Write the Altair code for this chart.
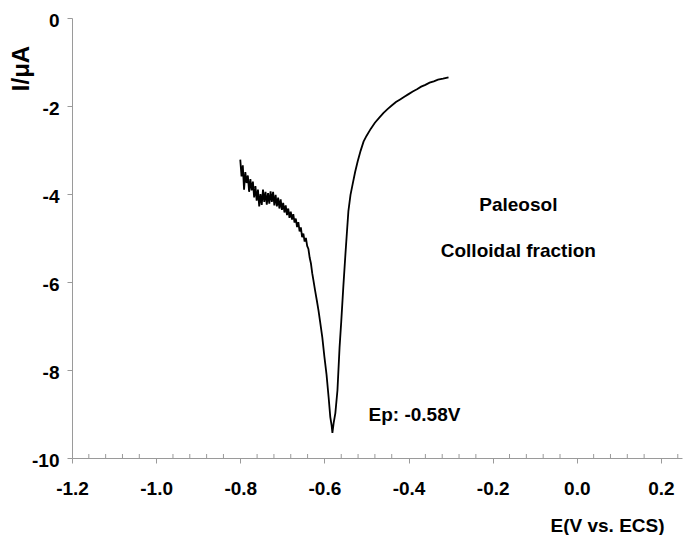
import altair as alt
import pandas as pd

# Potential (V vs. ECS) and current (uA)
E_values = [
    -0.800, -0.797, -0.794, -0.791, -0.788, -0.785, -0.782, -0.779, -0.776, -0.773,
    -0.770, -0.767, -0.764, -0.761, -0.758, -0.755, -0.752, -0.749, -0.746, -0.743,
    -0.740, -0.737, -0.734, -0.731, -0.728, -0.725, -0.722, -0.719, -0.716, -0.713,
    -0.710, -0.707, -0.704, -0.701, -0.698, -0.695, -0.692, -0.689, -0.686, -0.683,
    -0.680, -0.677, -0.674, -0.671, -0.668, -0.665, -0.662, -0.659, -0.656, -0.653,
    -0.650, -0.647, -0.644, -0.641, -0.638, -0.635, -0.632, -0.629, -0.626, -0.622,
    -0.618, -0.614, -0.610, -0.605, -0.600, -0.595, -0.590, -0.586, -0.583, -0.581,
    -0.578, -0.574, -0.569, -0.564, -0.560, -0.555, -0.550, -0.546, -0.543, -0.538,
    -0.533, -0.527, -0.521, -0.514, -0.507, -0.500, -0.490, -0.480, -0.470, -0.460,
    -0.450, -0.440, -0.430, -0.420, -0.410, -0.400, -0.390, -0.380, -0.370, -0.360,
    -0.350, -0.340, -0.330, -0.318, -0.305,
]
I_values = [
    -3.22, -3.60, -3.35, -3.90, -3.50, -3.75, -3.58, -3.95, -3.66, -3.92,
    -3.72, -4.08, -3.82, -4.15, -3.90, -4.28, -4.00, -4.25, -3.90, -4.18,
    -3.95, -4.24, -3.98, -4.22, -3.94, -4.18, -3.95, -4.26, -4.02, -4.28,
    -4.08, -4.33, -4.12, -4.36, -4.20, -4.42, -4.26, -4.48, -4.33, -4.54,
    -4.40, -4.58, -4.46, -4.65, -4.56, -4.75, -4.64, -4.85, -4.76, -4.98,
    -4.90, -5.08, -5.00, -5.18, -5.25, -5.45, -5.58, -5.80, -5.97, -6.20,
    -6.42, -6.65, -6.92, -7.26, -7.70, -8.10, -8.62, -9.07, -9.25, -9.43,
    -9.20, -8.98, -8.46, -7.49, -6.90, -6.10, -5.36, -4.80, -4.39, -4.02,
    -3.78, -3.50, -3.26, -3.02, -2.81, -2.68, -2.52, -2.38, -2.27, -2.16,
    -2.07, -1.99, -1.91, -1.85, -1.79, -1.73, -1.67, -1.62, -1.56, -1.52,
    -1.47, -1.44, -1.40, -1.38, -1.35,
]

x_ticks = [-1.2, -1.0, -0.8, -0.6, -0.4, -0.2, 0.0, 0.2]
x_minor = [-1.16, -1.12, -1.08, -1.04, -0.96, -0.92, -0.88, -0.84,
           -0.76, -0.72, -0.68, -0.64, -0.56, -0.52, -0.48, -0.44,
           -0.36, -0.32, -0.28, -0.24, -0.16, -0.12, -0.08, -0.04,
           0.04, 0.08, 0.12, 0.16, 0.24]
y_ticks = [0, -2, -4, -6, -8, -10]

labels = ["Paleosol", "Colloidal fraction", "Ep: -0.58V"]
label_x = [-0.139, -0.139, -0.386]
label_y = [-4.39, -5.43, -9.16]

W, H = 610, 440
FONT = "Liberation Sans"
AXIS_GRAY = "#9a9a9a"

curve = pd.DataFrame({"E": E_values, "I": I_values, "idx": list(range(len(E_values)))})
minor_df = pd.DataFrame({"E": x_minor})
text_df = pd.DataFrame({"label": labels, "E": label_x, "I": label_y})

x_scale = alt.Scale(domain=[-1.2, 0.25], nice=False, zero=False)
y_scale = alt.Scale(domain=[-10, 0], nice=False, zero=False)

x_axis = alt.Axis(
    values=x_ticks, title="E(V vs. ECS)", grid=False,
    labelExpr="replace(format(datum.value, '.1f'), '\u2212', '-')",
    domainColor=AXIS_GRAY, tickColor=AXIS_GRAY, tickSize=5, labelPadding=16,
    labelFont=FONT, labelFontSize=19, labelFontWeight="bold", labelColor="black",
    titleFont=FONT, titleFontSize=19, titleFontWeight="bold", titleColor="black",
    titleX=535, titleY=73, titleAlign="center", titleBaseline="alphabetic",
    labelFlush=False, labelOverlap=False,
)
y_axis = alt.Axis(
    values=y_ticks, title="I/μA", grid=False,
    labelExpr="replace(format(datum.value, 'd'), '\u2212', '-')",
    domainColor=AXIS_GRAY, tickColor=AXIS_GRAY, tickSize=5, labelPadding=8,
    labelOffset=2, labelBaseline="middle",
    labelFont=FONT, labelFontSize=19, labelFontWeight="bold", labelColor="black",
    titleFont=FONT, titleFontSize=24, titleFontWeight="bold", titleColor="black",
    titleX=-44, titleY=50, titleAlign="center", titleBaseline="alphabetic", titleAngle=270,
    labelFlush=False, labelOverlap=False,
)

line = alt.Chart(curve).mark_line(color="black", strokeWidth=1.8).encode(
    x=alt.X("E:Q", scale=x_scale, axis=x_axis),
    y=alt.Y("I:Q", scale=y_scale, axis=y_axis),
    order="idx:Q",
)

minor = alt.Chart(minor_df).mark_rule(color=AXIS_GRAY, strokeWidth=1).encode(
    x=alt.X("E:Q", scale=x_scale),
    y=alt.value(H - 4),
    y2=alt.value(H),
)

texts = alt.Chart(text_df).mark_text(
    font=FONT, fontSize=19, fontWeight="bold", color="black",
    align="center", baseline="alphabetic",
).encode(
    x=alt.X("E:Q", scale=x_scale),
    y=alt.Y("I:Q", scale=y_scale),
    text="label:N",
)

chart = alt.layer(line, minor, texts).properties(
    width=W, height=H,
    padding={"left": 64, "top": 10, "right": 4, "bottom": 80},
    autosize=alt.AutoSizeParams(type="none"),
    background="white",
).configure_view(stroke=None)

chart.save("out.html", embed_options={"renderer": "svg", "actions": False})
